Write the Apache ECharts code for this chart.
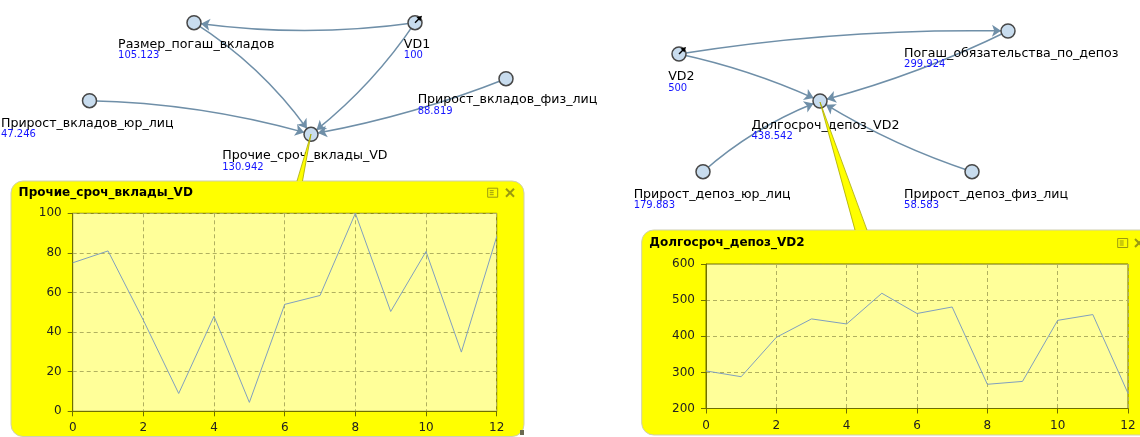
<!DOCTYPE html>
<html><head><meta charset="utf-8">
<script src="https://cdn.jsdelivr.net/npm/echarts@6/dist/echarts.min.js"></script>
<style>html,body{margin:0;padding:0;background:#fff;overflow:hidden}#c{width:1140px;height:437px}</style>
</head><body><div id="c"></div>
<script>
// ---------- data ----------
const nodeNames = ['Размер_погаш_вкладов','VD1','Прирост_вкладов_физ_лиц','Прирост_вкладов_юр_лиц','Прочие_сроч_вклады_VD',
                   'VD2','Погаш_обязательства_по_депоз','Долгосроч_депоз_VD2','Прирост_депоз_юр_лиц','Прирост_депоз_физ_лиц'];
const nodeValues = ['105.123','100','88.819','47.246','130.942','500','299.924','438.542','179.883','58.583'];
const linkSources = [1,0,1,3,2,5,5,6,8,9];
const linkTargets = [0,4,4,4,4,6,7,7,7,7];
const steps = [0,1,2,3,4,5,6,7,8,9,10,11,12];
const seriesA = [75,81,46,9,48,4.5,54,58.5,100,50.4,80.7,29.9,88.2];
const seriesB = [304,288,397,448,434,519,463,481,267,275,444,460,242];
const titleA = 'Прочие_сроч_вклады_VD';
const titleB = 'Долгосроч_депоз_VD2';

// ---------- layout (diagram placement) ----------
const nodeX = [194,415,506,89.5,311,679,1008,820,703,972];
const nodeY = [22.7,22.7,78.7,100.7,134.3,54,31,101,171.7,171.7];
const labelLeft = [118.8,404.6,418.4,1.7,223,668.9,904.8,752.2,634.4,904.8];
const labelMid = [45,45,100.7,124,156.7,77.7,54.3,126,195,195];
const curv = [0.07,0.1,0.08,0.065,0.05,0.045,0.055,0.05,0.09,0.06];

const FONT = 'DejaVu Sans';
const OLIVE = '#6f6f00';

function axisX(gi){
  return {type:'value',gridIndex:gi,min:0,max:12,interval:2,z:2,
    axisLine:{show:true,onZero:false,lineStyle:{color:OLIVE,width:1}},
    axisTick:{show:true,length:5,lineStyle:{color:OLIVE}},
    axisLabel:{color:'#222',fontSize:12,fontFamily:FONT,margin:11},
    splitLine:{show:true,lineStyle:{color:'#b0b060',type:[4,3],width:1}}};
}
function axisY(gi,min,max,iv){
  return {type:'value',gridIndex:gi,min:min,max:max,interval:iv,z:2,
    axisLine:{show:true,onZero:false,lineStyle:{color:OLIVE,width:1}},
    axisTick:{show:true,length:5,lineStyle:{color:OLIVE}},
    axisLabel:{color:'#222',fontSize:12,fontFamily:FONT,margin:11},
    splitLine:{show:true,lineStyle:{color:'#b0b060',type:[4,3],width:1}}};
}

function restoreIcon(cx,cy){
  return [
    {type:'rect',z:20,shape:{x:cx-5,y:cy-4.5,width:10,height:9},style:{fill:'none',stroke:'#9a9a10',lineWidth:1}},
    {type:'line',z:20,shape:{x1:cx-3,y1:cy-2,x2:cx+1,y2:cy-2},style:{stroke:'#9a9a10',lineWidth:1}},
    {type:'line',z:20,shape:{x1:cx-3,y1:cy,x2:cx+1,y2:cy},style:{stroke:'#9a9a10',lineWidth:1}},
    {type:'line',z:20,shape:{x1:cx-3,y1:cy+2,x2:cx+1,y2:cy+2},style:{stroke:'#9a9a10',lineWidth:1}}
  ];
}
function closeIcon(cx,cy){
  return [
    {type:'line',z:20,shape:{x1:cx-4,y1:cy-4,x2:cx+4,y2:cy+4},style:{stroke:'#9a9a10',lineWidth:2}},
    {type:'line',z:20,shape:{x1:cx+4,y1:cy-4,x2:cx-4,y2:cy+4},style:{stroke:'#9a9a10',lineWidth:2}}
  ];
}
function cursorMark(cx,cy){
  return [
    {type:'line',z:120,shape:{x1:cx,y1:cy,x2:cx+5,y2:cy-5},style:{stroke:'#000',lineWidth:1.5}},
    {type:'polygon',z:120,shape:{points:[[cx+7,cy-7],[cx+1.5,cy-5.5],[cx+5.5,cy-1.5]]},style:{fill:'#000'}}
  ];
}

const graphics = [
  {type:'rect',z:-10,shape:{x:11,y:181,width:513,height:255.5,r:12},style:{fill:'#ffff00',stroke:'#cfcfb0',lineWidth:1}},
  {type:'rect',z:-10,shape:{x:641.7,y:230,width:540,height:205,r:12},style:{fill:'#ffff00',stroke:'#cfcfb0',lineWidth:1}},
  {type:'polygon',z:100,shape:{points:[[311,134],[297,181.5],[302.5,181.5]]},style:{fill:'#ffff00'}},
  {type:'polyline',z:101,shape:{points:[[297,181],[311,134],[302.5,181]]},style:{stroke:'#a8a800',lineWidth:0.8,fill:null}},
  {type:'polygon',z:100,shape:{points:[[820,102],[855,230.5],[867,230.5]]},style:{fill:'#ffff00'}},
  {type:'polyline',z:101,shape:{points:[[855,230],[820,102],[867,230]]},style:{stroke:'#a8a800',lineWidth:0.8,fill:null}},
  {type:'text',z:20,style:{x:18.6,y:193.3,text:titleA,font:'bold 12px '+FONT,fill:'#000',verticalAlign:'middle'}},
  {type:'text',z:20,style:{x:649.3,y:243.3,text:titleB,font:'bold 12px '+FONT,fill:'#000',verticalAlign:'middle'}},
  {type:'rect',z:20,shape:{x:520,y:430,width:4,height:5},style:{fill:'#6a6a50'}}
].concat(restoreIcon(492.7,192.7),closeIcon(510,192.7),restoreIcon(1122.7,243),closeIcon(1139,243),
         cursorMark(415,22.7),cursorMark(679,54));

const option = {
  animation:false,
  backgroundColor:'#ffffff',
  graphic:{elements:graphics},
  grid:[
    {left:72.7,top:213.3,width:424,height:198,show:true,backgroundColor:'#ffff99',borderColor:OLIVE,borderWidth:1},
    {left:706,top:264,width:422,height:144.5,show:true,backgroundColor:'#ffff99',borderColor:OLIVE,borderWidth:1},
    {left:0,top:0,width:1140,height:437,show:false}
  ],
  xAxis:[axisX(0),axisX(1),{type:'value',gridIndex:2,min:0,max:1140,show:false}],
  yAxis:[axisY(0,0,100,20),axisY(1,200,600,100),{type:'value',gridIndex:2,min:0,max:437,inverse:true,show:false}],
  series:[
    {type:'line',xAxisIndex:0,yAxisIndex:0,data:steps.map((s,i)=>[s,seriesA[i]]),showSymbol:false,
     lineStyle:{color:'#809fbf',width:1},z:5},
    {type:'line',xAxisIndex:1,yAxisIndex:1,data:steps.map((s,i)=>[s,seriesB[i]]),showSymbol:false,
     lineStyle:{color:'#809fbf',width:1},z:5},
    {type:'graph',coordinateSystem:'cartesian2d',xAxisIndex:2,yAxisIndex:2,z:3,
     symbol:'circle',symbolSize:14,
     itemStyle:{color:'#c8dcee',borderColor:'#474747',borderWidth:1.5},
     edgeSymbol:['none','arrow'],edgeSymbolSize:[4,9],
     lineStyle:{color:'#6f8fa8',width:1.5,opacity:1},
     emphasis:{disabled:true},
     label:{show:true,align:'left',verticalAlign:'top',
       formatter:p=>'{n|'+p.name+'}\n{v|'+nodeValues[p.dataIndex]+'}',
       rich:{n:{fontSize:12.6,fontFamily:FONT,color:'#000',lineHeight:12},
             v:{fontSize:10,fontFamily:FONT,color:'#1414ff',lineHeight:10}}},
     data:nodeNames.map((n,i)=>({name:n,value:[nodeX[i],nodeY[i]],
       label:{position:[labelLeft[i]-nodeX[i]+7,labelMid[i]-6-nodeY[i]+7]}})),
     links:linkSources.map((s,i)=>({source:s,target:linkTargets[i],lineStyle:{curveness:curv[i]}}))
    }
  ]
};
const chart = echarts.init(document.getElementById('c'),null,{renderer:'canvas'});
chart.setOption(option);
</script></body></html>
